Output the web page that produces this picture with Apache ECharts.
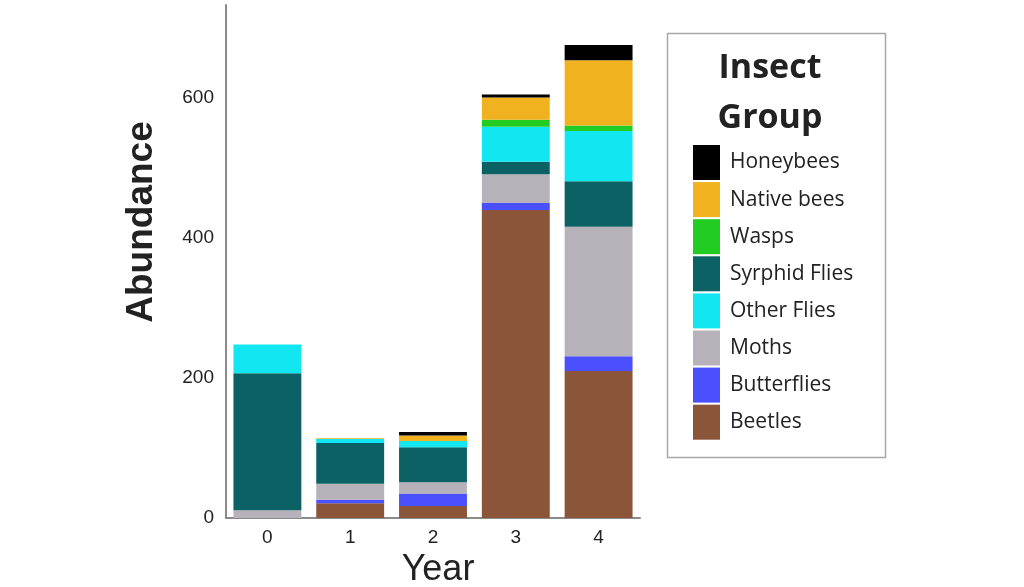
<!DOCTYPE html>
<html>
<head>
<meta charset="utf-8">
<script src="https://cdn.jsdelivr.net/npm/echarts@6/dist/echarts.min.js"></script>
<style>html,body{margin:0;padding:0;background:#fff;}#c{width:1024px;height:587px;}</style>
</head>
<body>
<div id="c"></div>
<script>
const years = ['0', '1', '2', '3', '4'];
const beetles     = [0, 21, 17, 440, 210];
const butterflies = [0, 5, 18, 10, 21];
const moths       = [11, 23, 16, 41, 185];
const syrphid     = [196, 58, 50, 18, 65];
const otherFlies  = [41, 6, 9, 50, 72];
const wasps       = [0, 0, 0, 10, 8];
const nativeBees  = [0, 1, 8, 32, 93];
const honeybees   = [0, 0, 5, 4, 22];
const yTicks = [0, 200, 400, 600];

const groups = [
  ['Beetles', beetles, '#8B553A'],
  ['Butterflies', butterflies, '#4B50FF'],
  ['Moths', moths, '#B7B2BA'],
  ['Syrphid Flies', syrphid, '#0B6163'],
  ['Other Flies', otherFlies, '#12E6F0'],
  ['Wasps', wasps, '#22CC22'],
  ['Native bees', nativeBees, '#F0B21E'],
  ['Honeybees', honeybees, '#000000']
];
const legendOrder = ['Honeybees','Native bees','Wasps','Syrphid Flies','Other Flies','Moths','Butterflies','Beetles'];

const chart = echarts.init(document.getElementById('c'));
const series = groups.map(g => ({
  name: g[0],
  type: 'bar',
  stack: 'all',
  data: g[1],
  itemStyle: { color: g[2] },
  barWidth: '82%'
}));

chart.setOption({
  animation: false,
  backgroundColor: '#fff',
  grid: { left: 226, right: 384, top: 5, bottom: 69 },
  xAxis: {
    type: 'category',
    data: years,
    axisLine: { lineStyle: { color: '#8a8a8a', width: 2 } },
    axisTick: { show: false },
    axisLabel: { fontSize: 19, color: '#222', margin: 10, fontFamily: 'Liberation Sans' }
  },
  yAxis: {
    type: 'value',
    min: 0,
    max: 733,
    interval: 200,
    axisLine: { show: true, lineStyle: { color: '#8a8a8a', width: 2 } },
    axisTick: { show: false },
    splitLine: { show: false },
    axisLabel: { fontSize: 19, color: '#222', margin: 12, showMaxLabel: false, fontFamily: 'Liberation Sans',
      formatter: v => yTicks.includes(v) ? String(v) : '' }
  },
  legend: {
    data: legendOrder,
    orient: 'vertical',
    left: 693,
    top: 145,
    padding: 0,
    itemWidth: 27,
    itemHeight: 35,
    itemGap: 2.1,
    icon: 'rect',
    textStyle: { fontSize: 21, color: '#222', fontFamily: 'Open Sans', padding: [0, 0, 0, 5] },
    selectedMode: false
  },
  graphic: [
    { type: 'rect', shape: { x: 667.5, y: 33.5, width: 218, height: 424 },
      style: { fill: 'none', stroke: '#a8a8a8', lineWidth: 1.5 } },
    { type: 'text', x: 770, y: 68, style: { text: 'Insect', fontSize: 34, fontWeight: 'bold', fill: '#222',
      fontFamily: 'Open Sans', align: 'center', verticalAlign: 'middle' } },
    { type: 'text', x: 770, y: 118, style: { text: 'Group', fontSize: 34, fontWeight: 'bold', fill: '#222',
      fontFamily: 'Open Sans', align: 'center', verticalAlign: 'middle' } },
    { type: 'text', x: 142, y: 222, rotation: Math.PI / 2, style: { text: 'Abundance', fontSize: 37, fontWeight: 'bold',
      fill: '#222', fontFamily: 'Liberation Sans', align: 'center', verticalAlign: 'middle' } },
    { type: 'text', x: 438, y: 570, style: { text: 'Year', fontSize: 36, fill: '#222',
      fontFamily: 'Liberation Sans', align: 'center', verticalAlign: 'middle' } }
  ],
  series: series
});
</script>
</body>
</html>
